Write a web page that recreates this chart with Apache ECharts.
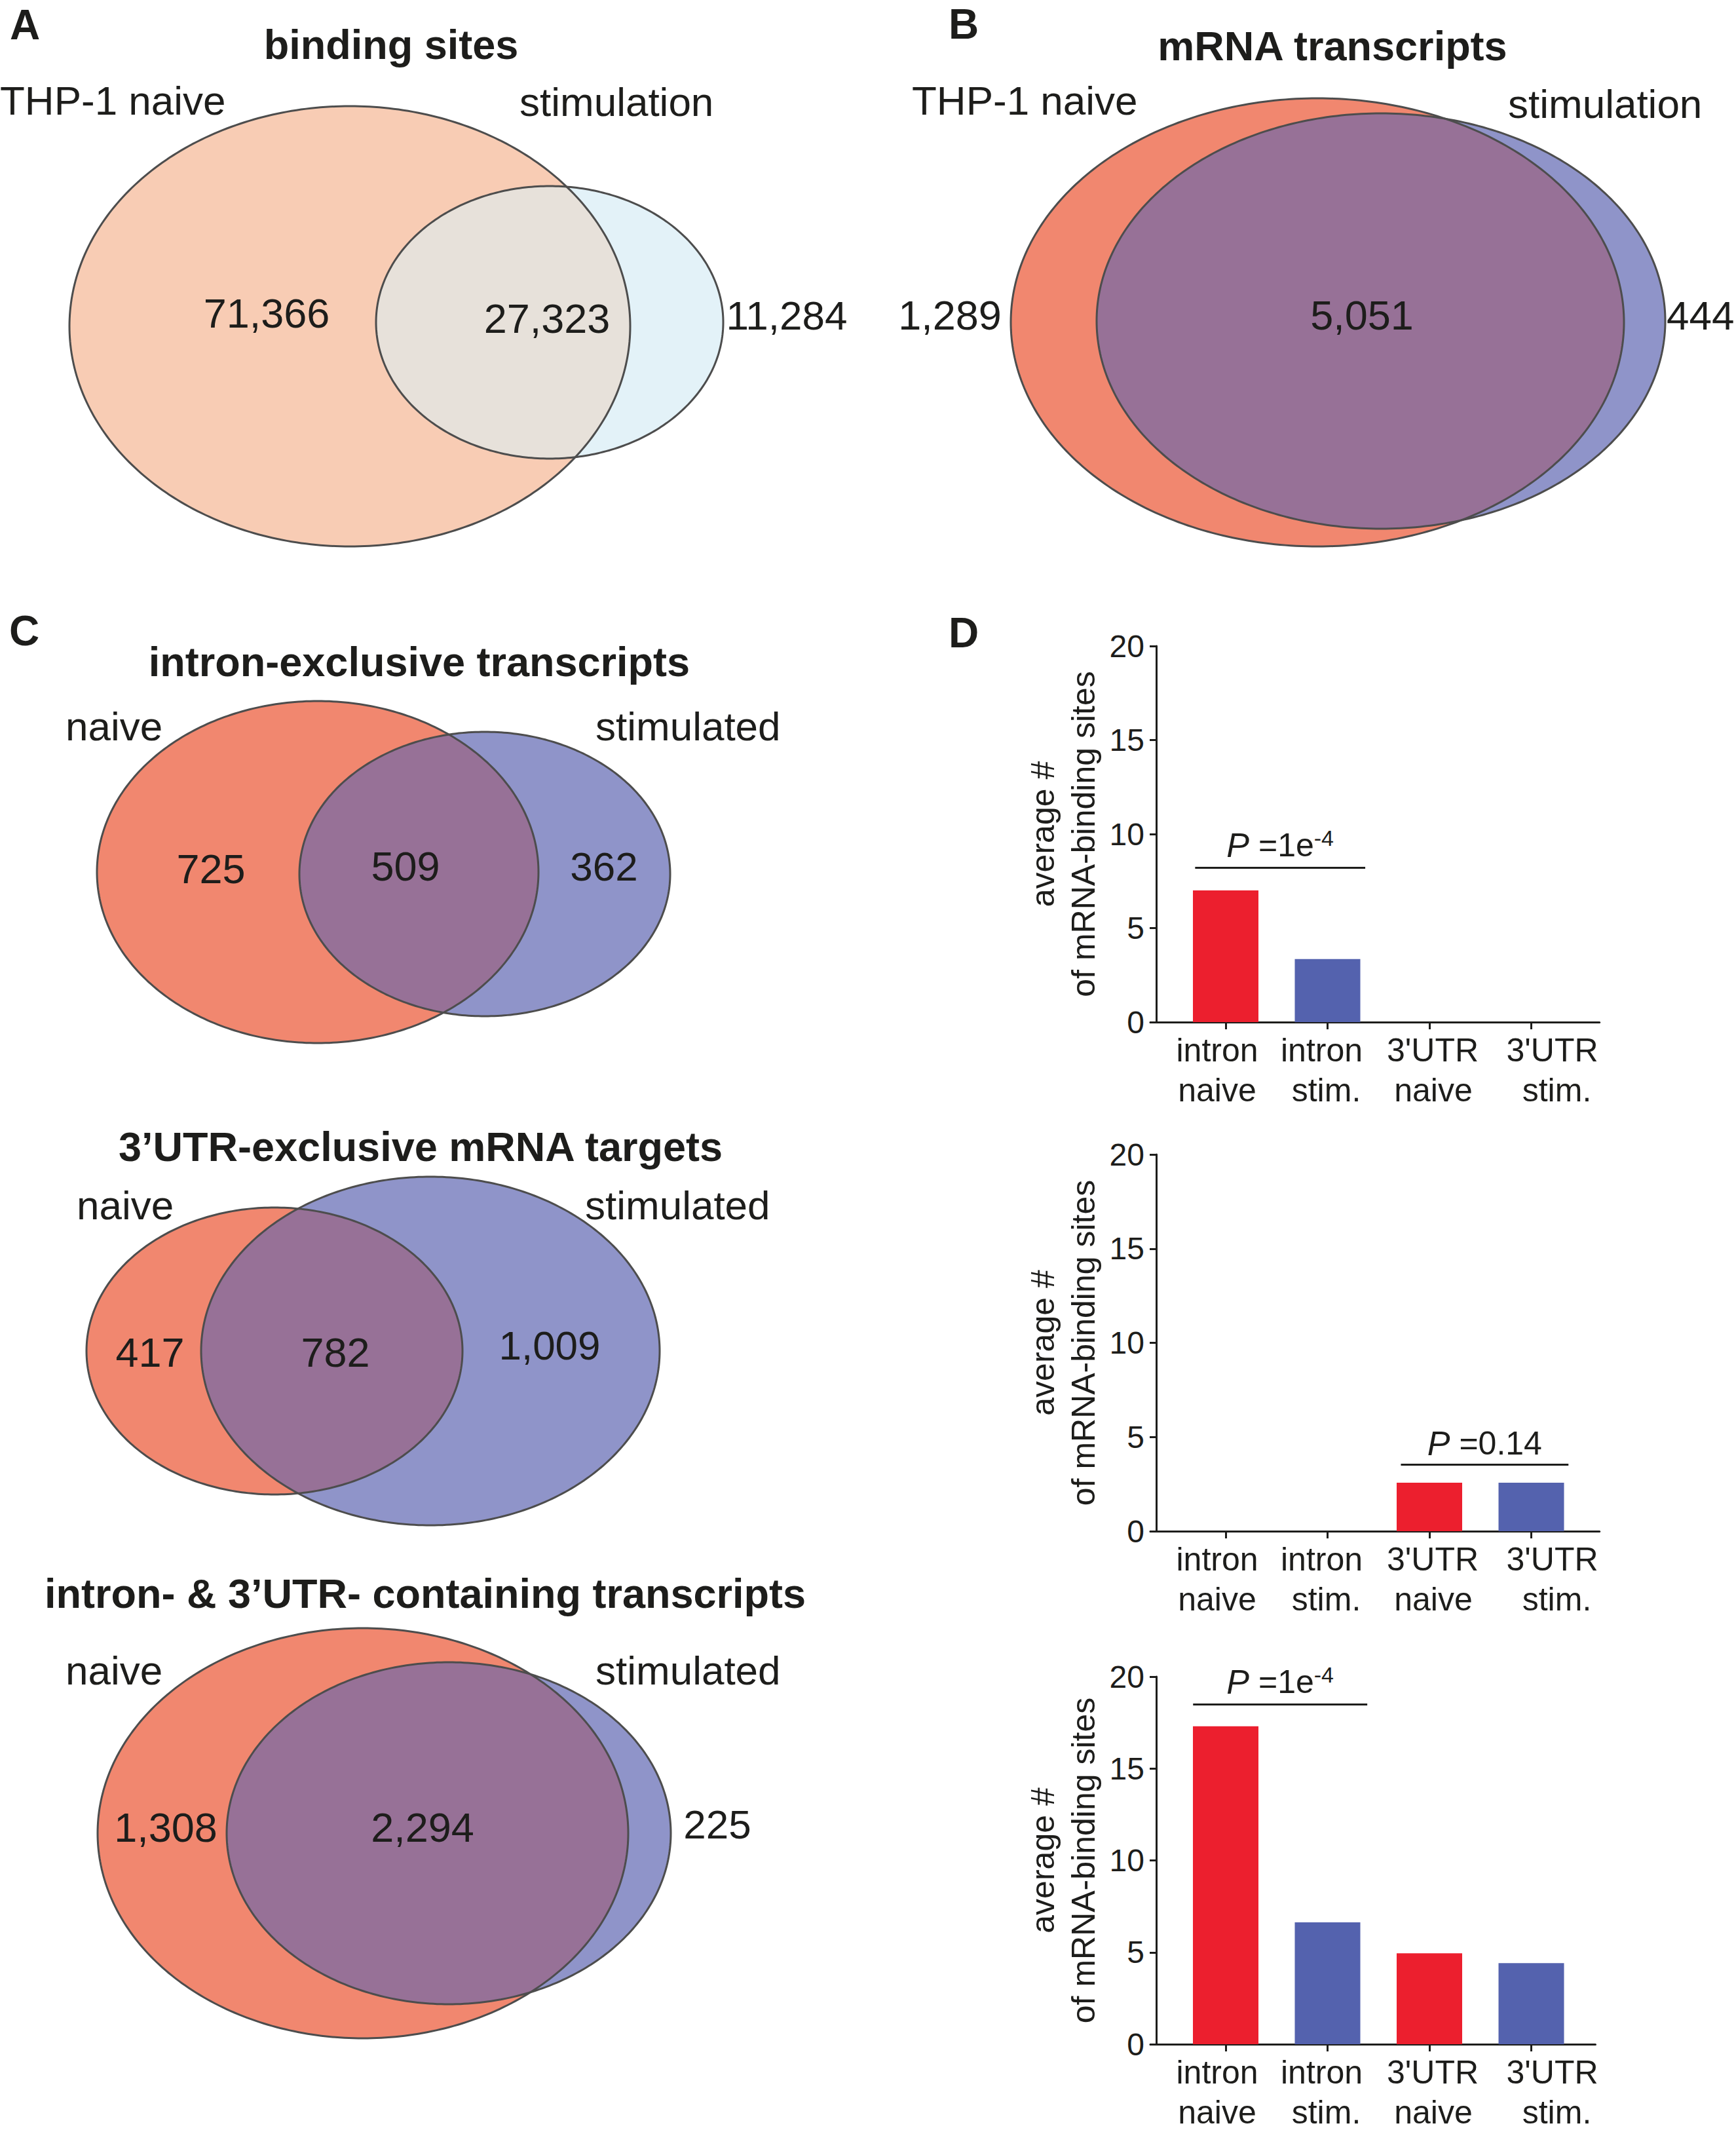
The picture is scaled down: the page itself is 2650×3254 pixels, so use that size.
<!DOCTYPE html>
<html><head><meta charset="utf-8">
<script src="https://cdn.jsdelivr.net/npm/echarts@6/dist/echarts.min.js"></script>
<style>html,body{margin:0;padding:0;background:#fff}#c{width:2650px;height:3254px}</style>
</head><body><div id="c"></div>
<script>
// ---------------- DATA ----------------
const vennTitles = ['binding sites', 'mRNA transcripts', 'intron-exclusive transcripts', '3\u2019UTR-exclusive mRNA targets', 'intron- & 3\u2019UTR- containing transcripts'];
const naiveNames = ['THP-1 naive', 'THP-1 naive', 'naive', 'naive', 'naive'];
const stimNames = ['stimulation', 'stimulation', 'stimulated', 'stimulated', 'stimulated'];
const naiveOnly = [71366, 1289, 725, 417, 1308];
const shared = [27323, 5051, 509, 782, 2294];
const stimOnly = [11284, 444, 362, 1009, 225];

const barCategories = [['intron', 'naive'], ['intron', 'stim.'], ['3\'UTR', 'naive'], ['3\'UTR', 'stim.']];
const intronExclusiveAvg = [7.0, 3.35, 0, 0];
const utrExclusiveAvg = [0, 0, 2.57, 2.57];
const bothContainingAvg = [17.3, 6.63, 4.95, 4.41];
const pValues = ['1e-4', '0.14', '1e-4'];
const yTicks = [0, 5, 10, 15, 20];
const panelLetters = ['A', 'B', 'C', 'D'];

// ---------------- LAYOUT / STYLE ----------------
const FONT = '"Liberation Sans", Arial, Helvetica, sans-serif';
const INK = '#1d1d1b';
const vennPalettes = [
  ['#F8CCB4', '#E3F2F8', '#E7E1DA'],
  ['#F1876F', '#8F94C9', '#977197']
];
const vennLayout = [
  {e1: [534, 498, 428, 336], e2: [839, 492, 265, 208], title: [597, 68], nName: [0, 153], sName: [793, 155], cN: [407, 478, 'center'], cS: [835, 486, 'center'], cR: [1201, 481, 'center'], pal: 0},
  {e1: [2011, 492, 468, 342], e2: [2108, 490, 434, 317], title: [2034, 70], nName: [1392, 153], sName: [2302, 158], cN: [1450, 481, 'center'], cS: [2079, 481, 'center'], cR: [2544, 481, 'left'], pal: 1},
  {e1: [485, 1331, 337, 261], e2: [740, 1334, 283, 217], title: [640, 1010], nName: [100, 1108], sName: [909, 1108], cN: [322, 1326, 'center'], cS: [619, 1322, 'center'], cR: [922, 1322, 'center'], pal: 1},
  {e1: [419, 2062, 287, 219], e2: [657, 2062, 350, 266], title: [642, 1750], nName: [117, 1839], sName: [893, 1839], cN: [229, 2064, 'center'], cS: [512, 2064, 'center'], cR: [839, 2053, 'center'], pal: 1},
  {e1: [554, 2798, 405, 313], e2: [685, 2798, 339, 261], title: [649, 2432], nName: [100, 2549], sName: [909, 2549], cN: [253, 2789, 'center'], cS: [645, 2789, 'center'], cR: [1095, 2784, 'center'], pal: 1}
];
const letterPos = [[38, 6], [1471, 5], [37, 931], [1471, 934]];
const barColors = ['#EC1F2E', '#5462AE'];
const barGridLayout = [
  {top: 986, height: 574, xMax: 3.67, pY: 8.22, pFrom: -0.30, pTo: 1.37},
  {top: 1762, height: 575, xMax: 3.67, pY: 3.54, pFrom: 1.72, pTo: 3.365},
  {top: 2559, height: 576, xMax: 3.63, pY: 18.49, pFrom: -0.32, pTo: 1.39}
];
// horizontal nudge (px) of each tick label line: [first line, second line]
const labelShift = [[-13, -13], [-9, -2], [5, 6], [32, 39]];
const BAR_LEFT = 1756, BAR_XMIN = -0.7395, BAR_UNIT = 155.5;

// ---------------- HELPERS ----------------
function ellipsePoints(e, n) {
  const pts = [];
  for (let k = 0; k < n; k++) {
    const t = 2 * Math.PI * k / n;
    pts.push([e[0] + e[2] * Math.cos(t), e[1] + e[3] * Math.sin(t)]);
  }
  return pts;
}
function insideEllipse(p, e) {
  const dx = (p[0] - e[0]) / e[2], dy = (p[1] - e[1]) / e[3];
  return dx * dx + dy * dy <= 1;
}
function overlapPoints(e1, e2) {
  const a = ellipsePoints(e1, 1440).filter(p => insideEllipse(p, e2));
  const b = ellipsePoints(e2, 1440).filter(p => insideEllipse(p, e1));
  const pts = a.concat(b);
  let cx = 0, cy = 0;
  pts.forEach(p => { cx += p[0]; cy += p[1]; });
  cx /= pts.length; cy /= pts.length;
  pts.sort((p, q) => Math.atan2(p[1] - cy, p[0] - cx) - Math.atan2(q[1] - cy, q[0] - cx));
  return pts;
}
function txt(api, p, text, size, weight, align) {
  const c = api.coord([p[0], p[1]]);
  return {type: 'text', z2: 10, style: {text: text, x: c[0], y: c[1], fill: INK, fontSize: size, fontFamily: FONT, fontWeight: weight, align: align, verticalAlign: 'middle'}};
}
const fmt = n => n.toLocaleString('en-US');

function renderVenn(params, api) {
  const i = api.value(0);
  const L = vennLayout[i];
  const P = vennPalettes[L.pal];
  const toPx = pts => pts.map(p => api.coord(p));
  const p1 = toPx(ellipsePoints(L.e1, 360));
  const p2 = toPx(ellipsePoints(L.e2, 360));
  const ov = toPx(overlapPoints(L.e1, L.e2));
  const stroke = '#4d4d4d';
  const children = [
    {type: 'polygon', shape: {points: p1}, style: {fill: P[0]}},
    {type: 'polygon', shape: {points: p2}, style: {fill: P[1]}},
    {type: 'polygon', shape: {points: ov}, style: {fill: P[2]}},
    {type: 'polygon', shape: {points: p1}, style: {fill: 'none', stroke: stroke, lineWidth: 3}},
    {type: 'polygon', shape: {points: p2}, style: {fill: 'none', stroke: stroke, lineWidth: 3}},
    txt(api, L.title, vennTitles[i], 63, 'bold', 'center'),
    txt(api, L.nName, naiveNames[i], 62, 'normal', 'left'),
    txt(api, L.sName, stimNames[i], 62, 'normal', 'left'),
    txt(api, L.cN, fmt(api.value(1)), 63, 'normal', L.cN[2]),
    txt(api, L.cS, fmt(api.value(2)), 63, 'normal', L.cS[2]),
    txt(api, L.cR, fmt(api.value(3)), 62, 'normal', L.cR[2])
  ];
  return {type: 'group', children: children};
}

// ---------------- OPTION ----------------
const grids = [{left: 0, top: 0, width: 2650, height: 3254}];
const xAxes = [{type: 'value', gridIndex: 0, min: 0, max: 2650, show: false}];
const yAxes = [{type: 'value', gridIndex: 0, min: 0, max: 3254, inverse: true, show: false}];
const series = [{
  type: 'custom', xAxisIndex: 0, yAxisIndex: 0, clip: false,
  dimensions: ['idx', 'naiveOnly', 'shared', 'stimOnly'],
  encode: {x: 'idx', y: 'idx'},
  data: vennTitles.map((t, i) => [i, naiveOnly[i], shared[i], stimOnly[i]]),
  renderItem: renderVenn
}];

const labelRich = {};
labelShift.forEach((s, i) => s.forEach((d, j) => {
  labelRich['l' + i + j] = {
    fontSize: 50, lineHeight: 61, color: INK, fontFamily: FONT, align: 'center',
    padding: d > 0 ? [0, 0, 0, 2 * d] : [0, -2 * d, 0, 0]
  };
}));
function catLabel(v) {
  const i = Math.round(v);
  return barCategories[i].map((t, j) => '{l' + i + j + '|' + t + '}').join('\n');
}

const barSets = [intronExclusiveAvg, utrExclusiveAvg, bothContainingAvg];
function pFormatter(v) {
  const parts = v.split('e');
  return parts.length > 1 ? '{it|P} {n|=' + parts[0] + 'e}{sup|' + parts[1] + '}' : '{it|P} {n|=' + v + '}';
}
const catIdx = barCategories.map((c, i) => i);
barSets.forEach((vals, k) => {
  const g = barGridLayout[k];
  const gi = k + 1;
  grids.push({left: BAR_LEFT, top: g.top, width: (g.xMax - BAR_XMIN) * BAR_UNIT, height: g.height});
  const labelBase = {showMinLabel: true, showMaxLabel: true, formatter: catLabel, rich: labelRich,
    fontSize: 50, lineHeight: 61, color: INK, fontFamily: FONT, margin: 12};
  // main x axis: line, all ticks, first three labels
  xAxes.push({
    type: 'value', gridIndex: gi, position: 'bottom', offset: 0, min: BAR_XMIN, max: g.xMax,
    splitLine: {show: false},
    axisLine: {show: true, onZero: false, lineStyle: {color: INK, width: 3}},
    axisTick: {show: true, customValues: catIdx, length: 11, lineStyle: {color: INK, width: 3}},
    axisLabel: Object.assign({customValues: catIdx.slice(0, 3)}, labelBase)
  });
  const barXIndex = xAxes.length - 1;
  // companion x axis carrying only the last label (avoids overlap hiding)
  xAxes.push({
    type: 'value', gridIndex: gi, position: 'bottom', offset: 0, min: BAR_XMIN, max: g.xMax,
    splitLine: {show: false}, axisLine: {show: false, onZero: false}, axisTick: {show: false},
    axisLabel: Object.assign({customValues: catIdx.slice(3)}, labelBase)
  });
  yAxes.push({
    type: 'value', gridIndex: gi, min: yTicks[0], max: yTicks[yTicks.length - 1], interval: 5, offset: -9,
    splitLine: {show: false},
    axisLine: {show: true, onZero: false, lineStyle: {color: INK, width: 3}},
    axisTick: {show: true, length: 10, lineStyle: {color: INK, width: 3}},
    axisLabel: {fontSize: 48, color: INK, fontFamily: FONT, margin: 18},
    name: 'average #\nof mRNA-binding sites', nameLocation: 'middle', nameRotate: 90, nameGap: 80,
    nameTextStyle: {fontSize: 50, lineHeight: 62, color: INK, fontFamily: FONT}
  });
  series.push({
    type: 'bar', xAxisIndex: barXIndex, yAxisIndex: gi, barWidth: 100,
    data: vals.map((v, i) => ({value: [i, v], itemStyle: {color: barColors[i % 2]}})),
    markLine: {
      silent: true, symbol: ['none', 'none'],
      lineStyle: {color: INK, width: 3, type: 'solid'},
      label: {
        show: true, position: 'insideMiddleTop', distance: 6,
        formatter: () => pFormatter(pValues[k]),
        color: INK, fontFamily: FONT, fontSize: 50,
        rich: {
          it: {fontStyle: 'italic', fontSize: 52, fontFamily: FONT, color: INK},
          n: {fontSize: 50, fontFamily: FONT, color: INK},
          sup: {fontSize: 34, fontFamily: FONT, color: INK, verticalAlign: 'top', padding: [0, 0, 22, 0]}
        }
      },
      data: [[{coord: [g.pFrom, g.pY]}, {coord: [g.pTo, g.pY]}]]
    }
  });
});

const option = {
  animation: false,
  backgroundColor: '#ffffff',
  grid: grids, xAxis: xAxes, yAxis: yAxes, series: series,
  graphic: panelLetters.map((l, i) => ({
    type: 'text', x: letterPos[i][0], y: letterPos[i][1],
    style: {text: l, fill: INK, fontSize: 64, fontWeight: 'bold', fontFamily: FONT, align: 'center', verticalAlign: 'top'}
  }))
};
const chart = echarts.init(document.getElementById('c'), null, {renderer: 'svg', width: 2650, height: 3254});
chart.setOption(option);
</script>
</body></html>
